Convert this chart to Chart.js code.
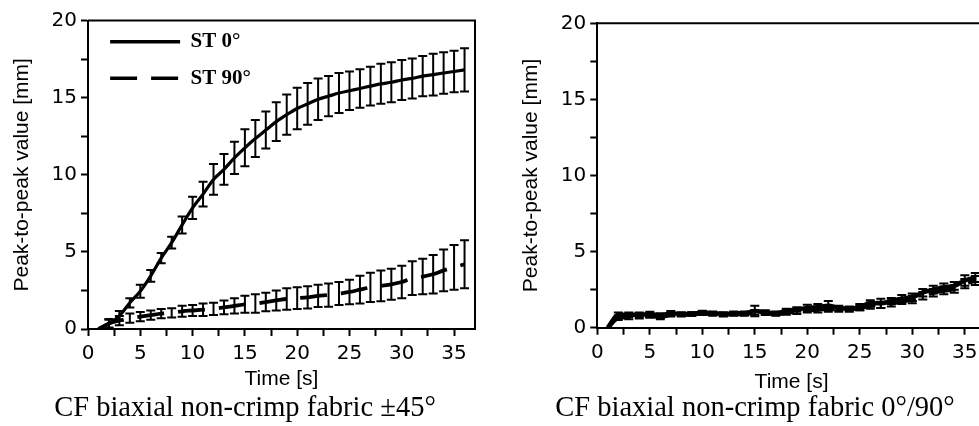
<!DOCTYPE html>
<html><head><meta charset="utf-8">
<script src="https://cdn.jsdelivr.net/npm/chart.js@4.4.0/dist/chart.umd.min.js"></script>
<style>
html,body{margin:0;padding:0;background:#fff;overflow:hidden;width:979px;height:426px;position:relative;}
#wrapL{position:absolute;left:0;top:0;width:490px;height:426px;}
#wrapR{position:absolute;left:490px;top:0;width:530px;height:426px;}
</style></head><body>
<div id="wrapL"><canvas id="cL"></canvas></div>
<div id="wrapR"><canvas id="cR"></canvas></div>
<script>
// ---- data ----
const time = [1,2,3,4,5,6,7,8,9,10,11,12,13,14,15,16,17,18,19,20,21,22,23,24,25,26,27,28,29,30,31,32,33,34,35,36];
const seriesNames = ['ST 0°', 'ST 90°'];
const panelTitles = ['CF biaxial non-crimp fabric ±45°', 'CF biaxial non-crimp fabric 0°/90°'];
const xTitle = 'Time [s]';
const yTitle = 'Peak-to-peak value [mm]';

// Left panel (±45°)
const st0Mean = [0,0.35,0.85,1.7,2.45,3.45,4.6,5.6,6.75,7.85,8.75,9.7,10.35,11.1,11.75,12.35,12.9,13.45,13.9,14.3,14.6,14.9,15.1,15.3,15.45,15.6,15.75,15.9,16.0,16.15,16.25,16.4,16.5,16.6,16.7,16.8];
const st0Err  = [0,0.3,0.32,0.3,0.42,0.38,0.33,0.38,0.55,0.72,0.8,1.0,1.0,1.05,1.2,1.2,1.2,1.25,1.3,1.35,1.35,1.35,1.3,1.3,1.25,1.25,1.25,1.3,1.3,1.3,1.3,1.3,1.35,1.35,1.35,1.4];
const st90Mean = [0,0.35,0.55,0.7,0.8,0.9,1.0,1.05,1.15,1.2,1.25,1.3,1.4,1.5,1.6,1.65,1.75,1.85,1.95,2.0,2.05,2.15,2.2,2.3,2.4,2.55,2.7,2.8,2.9,3.05,3.3,3.4,3.55,3.8,4.0,4.2];
const st90Err  = [0,0.25,0.3,0.3,0.3,0.3,0.3,0.3,0.35,0.35,0.4,0.4,0.45,0.5,0.55,0.6,0.6,0.65,0.7,0.7,0.72,0.72,0.75,0.75,0.8,0.9,0.95,1.0,1.0,1.05,1.1,1.15,1.25,1.35,1.45,1.55];

// Right panel (0°/90°)
const r0Mean = [0,0.85,0.85,0.85,0.9,0.8,0.95,0.9,0.9,1.0,0.95,0.9,0.95,0.95,1.1,1.0,0.95,1.1,1.2,1.3,1.35,1.45,1.3,1.25,1.35,1.6,1.6,1.75,1.9,2.0,2.3,2.5,2.65,2.75,3.1,3.3];
const r0Err  = [0,0.15,0.15,0.15,0.15,0.15,0.15,0.12,0.12,0.12,0.12,0.12,0.12,0.12,0.35,0.15,0.12,0.15,0.15,0.2,0.2,0.3,0.15,0.15,0.2,0.2,0.3,0.2,0.25,0.25,0.25,0.25,0.25,0.25,0.35,0.3];
const r90Mean = [0,0.65,0.7,0.75,0.8,0.7,0.85,0.85,0.9,0.95,0.9,0.85,0.9,0.9,1.0,0.95,0.9,1.0,1.05,1.15,1.2,1.25,1.2,1.2,1.3,1.45,1.5,1.6,1.75,1.85,2.1,2.3,2.45,2.55,2.9,3.1];
const r90Err  = [0,0.15,0.15,0.15,0.15,0.15,0.12,0.12,0.12,0.12,0.12,0.12,0.12,0.12,0.15,0.12,0.12,0.15,0.15,0.15,0.2,0.2,0.15,0.15,0.15,0.2,0.2,0.2,0.2,0.25,0.25,0.25,0.25,0.25,0.3,0.3];

const xTicksMajor = [0,5,10,15,20,25,30,35];
const yTicksMajor = [0,5,10,15,20];

// ---- plugins ----
const errorBarPlugin = {
  id: 'errorBars',
  afterDatasetsDraw(chart) {
    const ctx = chart.ctx, xs = chart.scales.x, ys = chart.scales.y, ca = chart.chartArea;
    ctx.save();
    ctx.beginPath(); ctx.rect(ca.left, ca.top - 2, ca.right - ca.left, ca.bottom - ca.top + 4); ctx.clip();
    ctx.strokeStyle = '#000'; ctx.lineWidth = 2; ctx.setLineDash([]);
    chart.data.datasets.forEach(ds => {
      if (!ds.errors) return;
      ds.data.forEach((p, i) => {
        const e = ds.errors[i];
        if (!e) return;
        const x = xs.getPixelForValue(p.x);
        const y1 = ys.getPixelForValue(p.y + e), y2 = ys.getPixelForValue(p.y - e);
        const c = ds.capHalf || 4.5;
        ctx.beginPath();
        ctx.moveTo(x, y1); ctx.lineTo(x, y2);
        ctx.moveTo(x - c, y1); ctx.lineTo(x + c, y1);
        ctx.moveTo(x - c, y2); ctx.lineTo(x + c, y2);
        ctx.stroke();
      });
    });
    ctx.restore();
  }
};
const framePlugin = {
  id: 'frame',
  afterDraw(chart) {
    const ctx = chart.ctx, ca = chart.chartArea;
    ctx.save(); ctx.strokeStyle = '#000'; ctx.lineWidth = 2;
    ctx.beginPath();
    ctx.moveTo(ca.left, ca.top); ctx.lineTo(ca.right, ca.top); ctx.lineTo(ca.right, ca.bottom);
    ctx.stroke(); ctx.restore();
  }
};
const legendShift = {
  id: 'legendShift',
  afterLayout(chart) {
    if (chart.legend && chart.options.plugins.legend.display) {
      chart.legend.left = chart.chartArea.left + 6.5;
      chart.legend.top = chart.chartArea.top - 5;
    }
  }
};

Chart.defaults.color = '#000';
Chart.defaults.font.family = "'Liberation Sans', Arial, sans-serif";

function toPts(means) { return time.map((t, i) => ({x: t, y: means[i]})); }

function makeChart(id, cfg) {
  const tickFont = {family: "'DejaVu Sans', sans-serif", size: 20};
  return new Chart(document.getElementById(id), {
    type: 'line',
    data: {
      datasets: [
        {label: seriesNames[0], data: toPts(cfg.m0), errors: cfg.e0, borderColor: '#000', backgroundColor: '#000',
         borderWidth: cfg.w0, pointRadius: 0, tension: 0.35, cubicInterpolationMode: 'monotone', borderCapStyle: 'butt'},
        {label: seriesNames[1], data: toPts(cfg.m1), errors: cfg.e1, borderColor: '#000', backgroundColor: '#000',
         borderWidth: cfg.w1, borderDash: cfg.dash1, pointRadius: 0, tension: 0.35, cubicInterpolationMode: 'monotone', borderCapStyle: 'butt'}
      ]
    },
    options: {
      responsive: true, maintainAspectRatio: false, animation: false,
      layout: {padding: {top: cfg.padTop, left: 0, right: 0, bottom: 0}},
      plugins: {
        tooltip: {enabled: false},
        legend: {
          display: cfg.legend, position: 'chartArea', align: 'start',
          labels: {usePointStyle: true, pointStyle: 'line', pointStyleWidth: 70, padding: 15.6,
                   font: {family: "'Liberation Serif', 'Times New Roman', serif", size: 21, weight: 'bold'}, color: '#000',
                   generateLabels(chart) {
                     const items = Chart.defaults.plugins.legend.labels.generateLabels(chart);
                     items.forEach(it => {
                       const ds = chart.data.datasets[it.datasetIndex];
                       it.lineDash = ds.borderDash || [];
                       it.lineWidth = 3.4;
                       it.strokeStyle = '#000';
                     });
                     return items;
                   }}
        },
        title: {display: true, position: 'bottom', text: cfg.title, color: '#000',
                font: {family: "'Liberation Serif', 'Times New Roman', serif", size: 28.5, weight: 'normal'},
                padding: {top: 5, bottom: 0}}
      },
      scales: {
        x: {
          type: 'linear', min: 0, max: 37,
          afterFit(s) { s.height = cfg.xH; },
          ticks: {stepSize: 2.5, includeBounds: false, autoSkip: false, maxRotation: 0, padding: 6, font: tickFont, color: '#000',
                  callback: v => xTicksMajor.includes(v) ? String(v) : ''},
          grid: {drawOnChartArea: false, drawTicks: true, tickLength: 7, tickWidth: 2, tickColor: '#000'},
          border: {display: true, color: '#000', width: 2},
          title: {display: true, text: xTitle, color: '#000', font: {size: 21}, padding: {top: 0, bottom: cfg.xTitlePad}}
        },
        y: {
          type: 'linear', min: 0, max: 20,
          afterFit(s) { s.width = cfg.yW; },
          ticks: {stepSize: 2.5, includeBounds: false, autoSkip: false, padding: 4, font: tickFont, color: '#000',
                  callback: v => yTicksMajor.includes(v) ? String(v) : ''},
          grid: {drawOnChartArea: false, drawTicks: true, tickLength: 7, tickWidth: 2, tickColor: '#000'},
          border: {display: true, color: '#000', width: 2},
          title: {display: true, text: yTitle, color: '#000', font: {size: 21}, padding: {top: cfg.yTitlePad, bottom: 0}}
        },
        yRightSpace: {
          type: 'linear', position: 'right', min: 0, max: 20, display: true,
          afterFit(s) { s.width = cfg.rightW; },
          ticks: {display: false}, grid: {display: false, drawTicks: false}, border: {display: false}
        }
      }
    },
    plugins: [errorBarPlugin, framePlugin, legendShift]
  });
}

makeChart('cL', {m0: st0Mean, e0: st0Err, m1: st90Mean, e1: st90Err, w0: 3.2, w1: 3.8, dash1: [27, 14],
  legend: true, title: panelTitles[0], padTop: 20.6, rightW: 15, xH: 57.8, yW: 88, xTitlePad: -5.2, yTitlePad: 10});
makeChart('cR', {m0: r0Mean, e0: r0Err, m1: r90Mean, e1: r90Err, w0: 4.5, w1: 4.5, dash1: [27, 14],
  legend: false, title: panelTitles[1], padTop: 23.3, rightW: 34.2, xH: 59.1, yW: 107.3, xTitlePad: -7.8, yTitlePad: 28.4});
</script>
</body></html>
